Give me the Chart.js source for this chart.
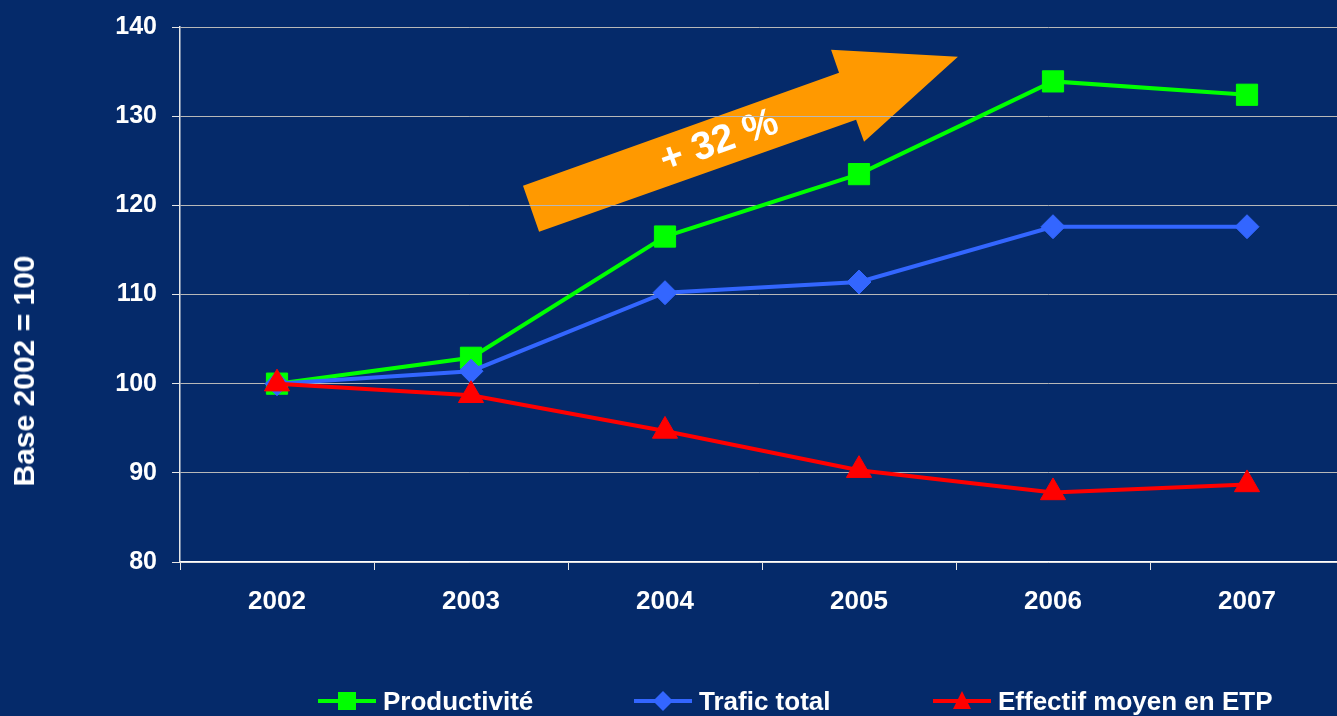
<!DOCTYPE html>
<html>
<head>
<meta charset="utf-8">
<script src="https://cdn.jsdelivr.net/npm/chart.js@4"></script>
<style>
  html, body { margin:0; padding:0; background:#052a6a; overflow:hidden; width:1337px; height:716px; }
  #wrap { position:absolute; left:0; top:0; width:1337px; height:716px; }
  #ytitle { position:absolute; left:24px; top:371px; transform:translate(-50%,-50%) rotate(-90deg);
    color:#fff; font:bold 30px "Liberation Sans", Arial, sans-serif; white-space:nowrap; }
  .leg { position:absolute; top:688px; height:26px; display:flex; align-items:center;
    color:#fff; font:bold 26px/26px "Liberation Sans", Arial, sans-serif; white-space:nowrap; }
  .leg svg { display:block; margin-right:7px; }
</style>
</head>
<body>
<div id="wrap"><canvas id="c"></canvas></div>
<div id="ytitle">Base 2002 = 100</div>
<div id="legend"></div>
<script>
// ---- data ----
const years = ['2002', '2003', '2004', '2005', '2006', '2007'];
const productivite = [100, 102.9, 116.5, 123.5, 133.9, 132.4];
const traficTotal = [100, 101.4, 110.2, 111.4, 117.6, 117.6];
const effectifETP = [100, 98.7, 94.7, 90.3, 87.8, 88.7];
const seriesNames = ['Productivité', 'Trafic total', 'Effectif moyen en ETP'];
const yTicks = [80, 90, 100, 110, 120, 130, 140];
const growthLabel = '+ 32 %';
// arrow outline in (category index, value) units
const arrowIdx = [1.351, 1.268, 2.897, 2.856, 3.510, 3.026, 2.985];
const arrowVal = [117.05, 122.2, 134.88, 137.46, 136.67, 127.14, 129.61];

const colors = ['#00ff00', '#3366ff', '#ff0000'];
const styles = ['rect', 'rectRot', 'triangle'];
const radii = [15, 12, 14.5];
const plotRight = 1344; // plot area runs slightly past the right edge of the picture

const widenPlugin = {
  id: 'widen',
  afterLayout(chart) {
    const extra = plotRight - chart.chartArea.right;
    if (extra <= 0) return;
    chart.chartArea.right += extra;
    chart.chartArea.width += extra;
    const x = chart.scales.x;
    x.right += extra;
    x.width += extra;
    x.configure();
  }
};

const arrowPlugin = {
  id: 'arrow',
  beforeDraw(chart) {
    const {ctx, scales:{x, y}} = chart;
    const step = x.getPixelForValue(1) - x.getPixelForValue(0);
    const px = i => x.getPixelForValue(0) + i * step;
    ctx.save();
    ctx.fillStyle = '#ff9900';
    ctx.beginPath();
    arrowIdx.forEach((v, k) => {
      const X = px(v), Y = y.getPixelForValue(arrowVal[k]);
      k ? ctx.lineTo(X, Y) : ctx.moveTo(X, Y);
    });
    ctx.closePath();
    ctx.fill();
    const tx = px(2.28), ty = y.getPixelForValue(127.1);
    ctx.translate(tx, ty);
    ctx.rotate(-19.6 * Math.PI / 180);
    ctx.fillStyle = '#ffffff';
    ctx.font = 'bold 39px "Liberation Sans", Arial, sans-serif';
    ctx.textAlign = 'center';
    ctx.textBaseline = 'middle';
    ctx.fillText(growthLabel, 0, 0);
    ctx.restore();
  }
};

const seriesData = [productivite, traficTotal, effectifETP];
const datasets = seriesData.map((d, i) => ({
  label: seriesNames[i],
  data: d,
  borderColor: colors[i],
  backgroundColor: colors[i],
  borderWidth: 4,
  pointStyle: styles[i],
  pointRadius: radii[i],
  pointBorderWidth: 1,
  pointBackgroundColor: colors[i],
  pointBorderColor: colors[i],
  tension: 0,
  order: 2 - i
}));

new Chart(document.getElementById('c'), {
  type: 'line',
  data: { labels: years, datasets },
  plugins: [widenPlugin, arrowPlugin],
  options: {
    responsive: true,
    maintainAspectRatio: false,
    animation: false,
    events: [],
    devicePixelRatio: 1,
    layout: { padding: { left: 0, top: 27, right: 0, bottom: 84 } },
    plugins: { legend: { display: false }, tooltip: { enabled: false } },
    scales: {
      x: {
        offset: true,
        grid: { display: true, drawOnChartArea: false, drawTicks: true, tickLength: 8, offset: true, color: '#e6e6e6', lineWidth: 1 },
        border: { color: '#ffffff', width: 1.5 },
        ticks: { color: '#ffffff', padding: 16, font: { family: '"Liberation Sans", Arial, sans-serif', size: 26, weight: 'bold' }, maxRotation: 0 },
        afterFit(s) { s.height = 70; s.paddingLeft = 0; s.paddingRight = 0; }
      },
      y: {
        min: 80, max: 140,
        afterBuildTicks(s) { s.ticks = yTicks.map(v => ({ value: v })); },
        grid: { color: '#b8b8b8', lineWidth: 1, tickLength: 8, tickColor: '#e6e6e6' },
        border: { color: '#e6e6e6', width: 1.5 },
        ticks: { color: '#ffffff', padding: 15, font: { family: '"Liberation Sans", Arial, sans-serif', size: 25, weight: 'bold' } },
        afterFit(s) { s.width = 180; s.paddingTop = 0; s.paddingBottom = 0; }
      }
    }
  }
});

// ---- HTML legend ----
const legLeft = [318, 634, 933];
const legend = document.getElementById('legend');
seriesNames.forEach((name, i) => {
  const c = colors[i];
  let marker;
  if (i === 0) marker = `<rect x="20" y="4" width="18" height="18" fill="${c}"/>`;
  else if (i === 1) marker = `<polygon points="29,3 39,13 29,23 19,13" fill="${c}"/>`;
  else marker = `<polygon points="29,3 38,21 20,21" fill="${c}"/>`;
  const div = document.createElement('div');
  div.className = 'leg';
  div.style.left = legLeft[i] + 'px';
  div.innerHTML = `<svg width="58" height="26" viewBox="0 0 58 26"><line x1="0" y1="13" x2="58" y2="13" stroke="${c}" stroke-width="4"/>${marker}</svg><span>${name}</span>`;
  legend.appendChild(div);
});
</script>
</body>
</html>
